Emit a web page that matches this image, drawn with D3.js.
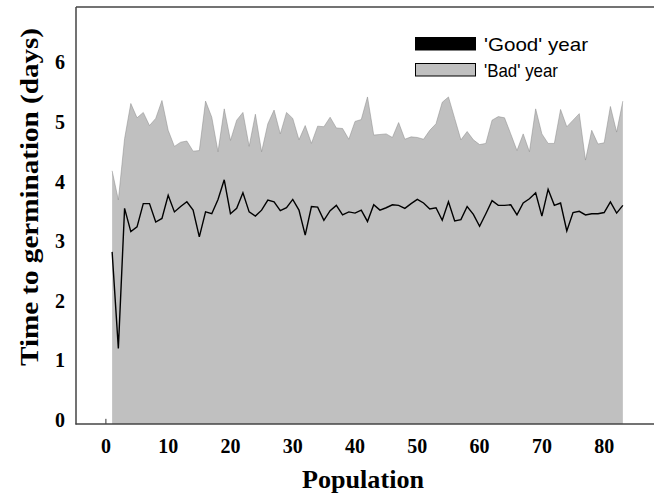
<!DOCTYPE html>
<html>
<head>
<meta charset="utf-8">
<script src="https://cdn.jsdelivr.net/npm/d3@7"></script>
<style>
  body { margin: 0; background: #fff; }
  svg { display: block; }
</style>
</head>
<body>
<svg id="chart" width="654" height="500"></svg>
<script>
const width = 654;
const height = 500;

// time to germination (days) per population, 1..83
const population = d3.range(1, 84);
const badYear = [4.18,3.69,4.72,5.31,5.07,5.16,4.94,5.06,5.36,4.86,
    4.59,4.66,4.68,4.51,4.52,5.35,5.08,4.50,5.22,4.69,
    5.03,5.16,4.59,5.13,4.50,4.97,5.20,4.80,5.16,5.06,
    4.70,4.94,4.64,4.93,4.92,5.08,4.90,4.89,4.71,5.01,
    5.04,5.42,4.78,4.79,4.80,4.74,4.99,4.71,4.75,4.74,
    4.71,4.86,4.97,5.33,5.42,5.06,4.70,4.84,4.70,4.62,
    4.64,5.03,5.09,5.07,4.80,4.52,4.80,4.50,5.22,4.80,
    4.64,4.64,5.21,4.92,5.03,5.14,4.36,4.86,4.63,4.65,
    5.26,4.83,5.35];
const goodYear = [2.82,1.20,3.55,3.16,3.24,3.63,3.63,3.32,3.38,3.77,
    3.49,3.58,3.66,3.52,3.07,3.49,3.46,3.70,4.03,3.46,
    3.55,3.81,3.49,3.42,3.52,3.69,3.66,3.51,3.56,3.70,
    3.52,3.10,3.58,3.57,3.35,3.51,3.60,3.44,3.49,3.47,
    3.52,3.33,3.61,3.52,3.56,3.61,3.60,3.55,3.63,3.70,
    3.64,3.54,3.56,3.35,3.66,3.34,3.36,3.58,3.45,3.25,
    3.46,3.68,3.60,3.60,3.61,3.44,3.64,3.71,3.81,3.42,
    3.87,3.60,3.64,3.17,3.48,3.50,3.44,3.46,3.46,3.48,
    3.66,3.47,3.60];
const xTicks = [0, 10, 20, 30, 40, 50, 60, 70, 80];
const yTicks = [0, 1, 2, 3, 4, 5, 6];
const legendLabels = ["'Good' year", "'Bad' year"];

const x = d3.scaleLinear().domain([-4.8, 88]).range([76, 654]);
const y = d3.scaleLinear().domain([-0.07, 6.93]).range([424, 7]);

const svg = d3.select('#chart');

const bad = population.map((p, i) => ({p: p, v: badYear[i]}));
const good = population.map((p, i) => ({p: p, v: goodYear[i]}));

// grey 'bad year' area
const area = d3.area()
    .x(d => x(d.p))
    .y0(y.range()[0])
    .y1(d => y(d.v));
svg.append('path')
    .datum(bad)
    .attr('d', area)
    .attr('fill', '#c0c0c0');
svg.append('path')
    .datum(bad)
    .attr('d', d3.line().x(d => x(d.p)).y(d => y(d.v)))
    .attr('fill', 'none')
    .attr('stroke', '#888')
    .attr('stroke-width', 0.5);

// black 'good year' line
svg.append('path')
    .datum(good)
    .attr('d', d3.line().x(d => x(d.p)).y(d => y(d.v)))
    .attr('fill', 'none')
    .attr('stroke', '#000')
    .attr('stroke-width', 1.4)
    .attr('stroke-linejoin', 'miter');

// small mark at population 0
svg.append('line')
    .attr('x1', x(0)).attr('x2', x(0))
    .attr('y1', y(0) - 1).attr('y2', y.range()[0])
    .attr('stroke', '#333')
    .attr('stroke-width', 1);

// frame: left, top, bottom
const frame = svg.append('g')
    .attr('stroke', '#444')
    .attr('stroke-width', 1.5)
    .attr('fill', 'none');
frame.append('line').attr('x1', 76).attr('x2', 76).attr('y1', 7).attr('y2', 424.5);
frame.append('line').attr('x1', 76).attr('x2', 654).attr('y1', 7).attr('y2', 7);
frame.append('line').attr('x1', 75.5).attr('x2', 654).attr('y1', 424).attr('y2', 424);

// tick labels
const tickFont = '"Liberation Serif", "Times New Roman", serif';
svg.append('g').selectAll('text')
    .data(xTicks)
    .join('text')
    .attr('x', d => x(d))
    .attr('y', 453)
    .attr('text-anchor', 'middle')
    .attr('font-family', tickFont)
    .attr('font-weight', 'bold')
    .attr('font-size', 20)
    .text(d => d);
svg.append('g').selectAll('text')
    .data(yTicks)
    .join('text')
    .attr('x', 65)
    .attr('y', d => y(d) + 7)
    .attr('text-anchor', 'end')
    .attr('font-family', tickFont)
    .attr('font-weight', 'bold')
    .attr('font-size', 20)
    .text(d => d);

// axis titles
svg.append('text')
    .attr('x', 363)
    .attr('y', 488)
    .attr('text-anchor', 'middle')
    .attr('font-family', tickFont)
    .attr('font-weight', 'bold')
    .attr('font-size', 25)
    .attr('textLength', 122)
    .attr('lengthAdjust', 'spacingAndGlyphs')
    .text('Population');
svg.append('text')
    .attr('transform', 'translate(38,197) rotate(-90)')
    .attr('text-anchor', 'middle')
    .attr('font-family', tickFont)
    .attr('font-weight', 'bold')
    .attr('font-size', 26)
    .attr('textLength', 338)
    .attr('lengthAdjust', 'spacingAndGlyphs')
    .text('Time to germination (days)');

// legend
const legend = svg.append('g');
const legendFill = ['#000', '#c0c0c0'];
const legendWidth = [104, 74];
legend.selectAll('rect')
    .data(legendLabels)
    .join('rect')
    .attr('x', 415.5)
    .attr('y', (d, i) => 37.5 + i * 26)
    .attr('width', 60)
    .attr('height', 12.5)
    .attr('fill', (d, i) => legendFill[i])
    .attr('stroke', '#000')
    .attr('stroke-width', 1);
legend.selectAll('text')
    .data(legendLabels)
    .join('text')
    .attr('x', 484)
    .attr('y', (d, i) => 51 + i * 26)
    .attr('font-family', '"Liberation Sans Narrow", "Arial Narrow", sans-serif')
    .attr('font-size', 19)
    .attr('textLength', (d, i) => legendWidth[i])
    .attr('lengthAdjust', 'spacingAndGlyphs')
    .text(d => d);
</script>
</body>
</html>
